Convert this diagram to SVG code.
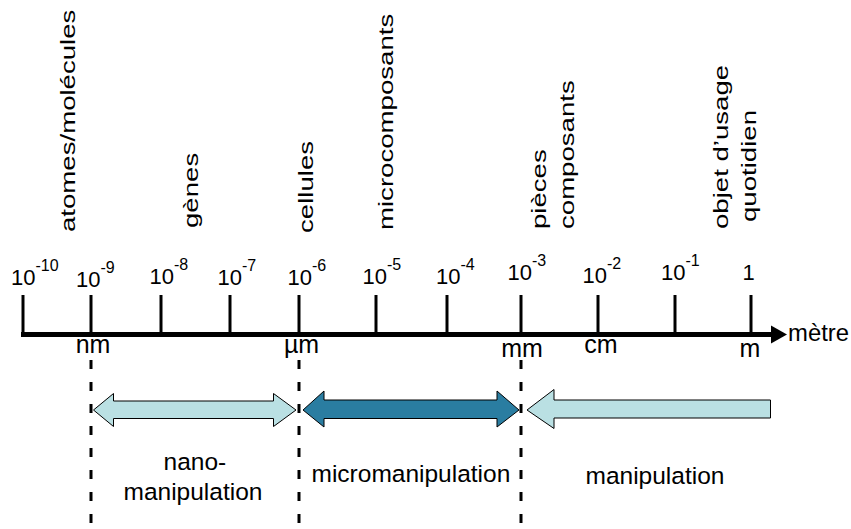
<svg xmlns="http://www.w3.org/2000/svg" width="851" height="529" viewBox="0 0 851 529">
<style>
text{font-family:"Liberation Sans",Arial,sans-serif;fill:#000}
.exp{font-size:22px}
.sup{font-size:16px}
.vt{font-size:20px}
.unit{font-size:25px;text-anchor:middle}
.lbl{font-size:24.5px}
.tick{stroke:#000;stroke-width:3}
.dash{stroke:#000;stroke-width:3;stroke-dasharray:9 13;fill:none}
.light{fill:#bae0e3;stroke:#000;stroke-width:1}
.dark{fill:#2a7da1;stroke:#000;stroke-width:1}
</style>
<rect width="851" height="529" fill="#fff"/>
<g id="categories">
<text class="vt" transform="translate(75,232) rotate(-90) scale(1.38,1)">atomes/molécules</text>
<text class="vt" transform="translate(198,228) rotate(-90) scale(1.38,1)">gènes</text>
<text class="vt" transform="translate(313,233) rotate(-90) scale(1.38,1)">cellules</text>
<text class="vt" transform="translate(393,230) rotate(-90) scale(1.38,1)">microcomposants</text>
<text class="vt" transform="translate(546,229) rotate(-90) scale(1.38,1)">pièces</text>
<text class="vt" transform="translate(574,229) rotate(-90) scale(1.38,1)">composants</text>
<text class="vt" transform="translate(727.5,229) rotate(-90) scale(1.38,1)">objet d’usage</text>
<text class="vt" transform="translate(756,222) rotate(-90) scale(1.38,1)">quotidien</text>
</g>
<g id="exponents">
<text class="exp" x="11" y="285">10<tspan class="sup" dy="-14">-10</tspan></text>
<text class="exp" x="76" y="286.5">10<tspan class="sup" dy="-14">-9</tspan></text>
<text class="exp" x="149.5" y="283.5">10<tspan class="sup" dy="-14">-8</tspan></text>
<text class="exp" x="217.5" y="285">10<tspan class="sup" dy="-14">-7</tspan></text>
<text class="exp" x="287.5" y="284.5">10<tspan class="sup" dy="-14">-6</tspan></text>
<text class="exp" x="362.5" y="283.5">10<tspan class="sup" dy="-14">-5</tspan></text>
<text class="exp" x="436" y="283.5">10<tspan class="sup" dy="-14">-4</tspan></text>
<text class="exp" x="507.5" y="280">10<tspan class="sup" dy="-14">-3</tspan></text>
<text class="exp" x="582.5" y="283">10<tspan class="sup" dy="-14">-2</tspan></text>
<text class="exp" x="661" y="279.5">10<tspan class="sup" dy="-14">-1</tspan></text>
<text class="exp" x="742.5" y="280">1</text>
</g>
<g id="axis">
<line x1="21" y1="334.5" x2="773" y2="334.5" stroke="#000" stroke-width="5"/>
<polygon points="771,325.5 787,334.5 771,343.5" fill="#000"/>
<line class="tick" x1="23" y1="295" x2="23" y2="334"/>
<line class="tick" x1="91" y1="295" x2="91" y2="334"/>
<line class="tick" x1="161" y1="295" x2="161" y2="334"/>
<line class="tick" x1="230" y1="295" x2="230" y2="334"/>
<line class="tick" x1="299" y1="295" x2="299" y2="334"/>
<line class="tick" x1="376" y1="295" x2="376" y2="334"/>
<line class="tick" x1="447" y1="295" x2="447" y2="334"/>
<line class="tick" x1="521" y1="295" x2="521" y2="334"/>
<line class="tick" x1="598" y1="295" x2="598" y2="334"/>
<line class="tick" x1="675" y1="295" x2="675" y2="334"/>
<line class="tick" x1="751" y1="295" x2="751" y2="334"/>
<text x="788" y="341" style="font-size:23px" textLength="61" lengthAdjust="spacingAndGlyphs">mètre</text>
</g>
<g id="units">
<text class="unit" x="93" y="353">nm</text>
<text class="unit" x="301.5" y="353">µm</text>
<text class="unit" x="522" y="357">mm</text>
<text class="unit" x="601" y="353">cm</text>
<text class="unit" x="750" y="357">m</text>
</g>
<g id="connectors">
<line class="dash" x1="91" y1="360" x2="91" y2="529"/>
<line class="dash" x1="299" y1="360" x2="299" y2="529"/>
<line class="dash" x1="521" y1="360" x2="521" y2="529"/>
</g>
<g id="nano-arrow">
<polygon class="light" points="93.5,410 113.5,393.5 113.5,401 273.5,401 273.5,393.5 296,410 273.5,426.5 273.5,418.5 113.5,418.5 113.5,426.5"/>
</g>
<g id="micro-arrow">
<polygon class="dark" points="303,410 324,391 324,400 497,400 497,391 519,410 497,427 497,418.5 324,418.5 324,427"/>
</g>
<g id="macro-arrow">
<polygon class="light" points="527,410 554,389.5 554,400 770.5,400 770.5,418 554,418 554,428.5"/>
</g>
<g id="labels">
<text class="lbl" x="163.5" y="470">nano-</text>
<text class="lbl" x="123.5" y="500">manipulation</text>
<text class="lbl" x="311.5" y="482">micromanipulation</text>
<text class="lbl" x="585.5" y="484">manipulation</text>
</g>
</svg>
